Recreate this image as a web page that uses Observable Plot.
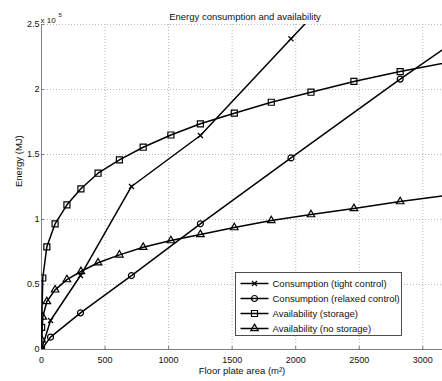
<!DOCTYPE html>
<html>
<head>
<meta charset="utf-8">
<script src="https://cdn.jsdelivr.net/npm/d3@7"></script>
<script src="https://cdn.jsdelivr.net/npm/@observablehq/plot@0.6"></script>
<style>
  html, body { margin: 0; padding: 0; background: #fff; }
  #wrap { position: relative; width: 442px; height: 381px; overflow: hidden; }
  #wrap svg { display: block; }
  #legend { position: absolute; left: 0; top: 0; }
</style>
</head>
<body>
<div id="wrap"></div>
<script>
// ---- data ----
const seriesNames = [
  "Consumption (tight control)",
  "Consumption (relaxed control)",
  "Availability (storage)",
  "Availability (no storage)"
];
const seriesSymbols = ["times", "circle", "square", "triangle"];

const consumptionArea = [0, 71, 307, 708, 1250, 1963, 2822, 3840];
const tightControl    = [0, 22300, 56900, 125400, 164600, 239000, 328000, 430000];
const relaxedControl  = [0, 9500, 28200, 56900, 96700, 147400, 208000, 277000];

const availabilityArea = [0, 1, 10, 42, 107, 200, 310, 445, 613, 800, 1018, 1250, 1517, 1808, 2120, 2458, 2822, 3230];
const withStorage      = [0, 17000, 55000, 79000, 96700, 111300, 123600, 135600, 145900, 155600, 165000, 173600, 181800, 190200, 197900, 206200, 213800, 221500];
const noStorage        = [0, 7500, 25000, 36900, 45900, 53800, 60000, 66700, 72800, 78700, 83800, 88500, 93800, 99200, 103800, 108500, 113800, 119000];

const xTicks = [0, 500, 1000, 1500, 2000, 2500, 3000];
const yTicks = [0, 50000, 100000, 150000, 200000, 250000];
const yTickLabels = ["0", "0.5", "1", "1.5", "2", "2.5"];

const titleText = "Energy consumption and availability";
const xLabel = "Floor plate area (m\u00B2)";
const yLabel = "Energy (MJ)";

// ---- build table ----
const rows = [];
consumptionArea.forEach((a, i) => {
  rows.push({series: seriesNames[0], area: a, energy: tightControl[i]});
  rows.push({series: seriesNames[1], area: a, energy: relaxedControl[i]});
});
availabilityArea.forEach((a, i) => {
  rows.push({series: seriesNames[2], area: a, energy: withStorage[i]});
  rows.push({series: seriesNames[3], area: a, energy: noStorage[i]});
});

const font = "'Liberation Sans', Arial, Helvetica, sans-serif";
const axisGray = "#7f7f7f";
const gridGray = "#b8b8b8";
const symbolOf = Object.fromEntries(seriesNames.map((n, i) => [n, seriesSymbols[i]]));
const radiusOf = {"times": 2.4, "circle": 3, "square": 3.4, "triangle": 2.8};

const plot = Plot.plot({
  width: 442,
  height: 381,
  marginLeft: 41,
  marginRight: 0,
  marginTop: 24,
  marginBottom: 32,
  style: {fontFamily: font, fontSize: "9px", color: "#111", background: "#fff"},
  x: {domain: [0, 3155], label: null},
  y: {domain: [0, 250000], label: null},
  marks: [
    Plot.gridX(xTicks.slice(1), {stroke: gridGray, strokeOpacity: 1, strokeDasharray: "1,2"}),
    Plot.gridY(yTicks.slice(1), {stroke: gridGray, strokeOpacity: 1, strokeDasharray: "1,2"}),
    Plot.ruleX([0], {stroke: axisGray}),
    Plot.ruleY([0], {stroke: axisGray}),
    Plot.axisX({ticks: xTicks, tickSize: -3, tickPadding: 10, stroke: axisGray, fill: "#111", fontSize: 9, label: null,
      tickFormat: (d) => String(d)}),
    Plot.axisY({ticks: yTicks, tickSize: -3, tickPadding: 5, stroke: axisGray, fill: "#111", fontSize: 9, label: null,
      tickFormat: (d) => yTickLabels[yTicks.indexOf(d)]}),
    Plot.line(rows, {x: "area", y: "energy", z: "series", stroke: "#000", strokeWidth: 1.5, clip: true}),
    ...seriesNames.map((n) => Plot.dot(rows.filter((r) => r.series === n), {
      x: "area", y: "energy", symbol: () => symbolOf[n], r: radiusOf[symbolOf[n]],
      stroke: "#000", fill: "none", strokeWidth: 1.2, clip: true
    })),
    Plot.text([titleText], {frameAnchor: "top", dx: 3, dy: -11, fontSize: 9.5, fill: "#111"}),
    Plot.text(["x 10"], {frameAnchor: "top-left", textAnchor: "start", dx: -1, dy: -7, fontSize: 8, fill: "#111"}),
    Plot.text(["5"], {frameAnchor: "top-left", textAnchor: "start", dx: 17, dy: -12, fontSize: 6, fill: "#111"}),
    Plot.text([xLabel], {frameAnchor: "bottom", dy: 24, fontSize: 9.5, fill: "#111"}),
    Plot.text([yLabel], {frameAnchor: "left", rotate: -90, dx: -23, fontSize: 9.5, fill: "#111"})
  ]
});

const wrap = document.getElementById("wrap");
wrap.appendChild(plot);

// ---- legend overlay ----
const lg = d3.select(wrap).append("svg")
  .attr("id", "legend").attr("width", 442).attr("height", 381)
  .style("font-family", font).style("font-size", "9.5px");
const box = {x: 235.5, y: 272.5, w: 166, h: 63};
lg.append("rect").attr("x", box.x).attr("y", box.y).attr("width", box.w).attr("height", box.h)
  .attr("fill", "#fff").attr("stroke", "#222").attr("stroke-width", 0.8);
const d3Sym = {times: d3.symbolTimes, circle: d3.symbolCircle, square: d3.symbolSquare, triangle: d3.symbolTriangle};
seriesNames.forEach((n, i) => {
  const cy = box.y + 11 + i * 15;
  const g = lg.append("g");
  g.append("line").attr("x1", box.x + 5).attr("x2", box.x + 33).attr("y1", cy).attr("y2", cy)
    .attr("stroke", "#000").attr("stroke-width", 1.5);
  const s = seriesSymbols[i], r = radiusOf[s];
  g.append("path").attr("transform", `translate(${box.x + 19},${cy})`)
    .attr("d", d3.symbol(d3Sym[s], r * r * Math.PI)())
    .attr("fill", "none").attr("stroke", "#000").attr("stroke-width", 1.2);
  g.append("text").attr("x", box.x + 37).attr("y", cy).attr("dy", "0.35em").attr("fill", "#111").text(n);
});
</script>
</body>
</html>
